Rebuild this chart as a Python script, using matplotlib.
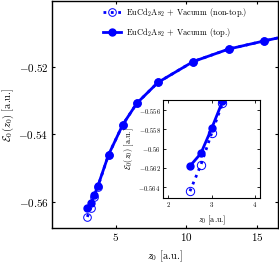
import matplotlib
matplotlib.use("Agg")
import matplotlib.pyplot as plt

plt.rcParams['font.family'] = 'serif'
plt.rcParams['font.serif'] = ['cmr10']
plt.rcParams['mathtext.fontset'] = 'cm'
plt.rcParams['axes.formatter.use_mathtext'] = True

# main panel data
z_top = [3.0, 3.25, 3.5, 3.75, 4.5, 5.5, 6.5, 8.0, 10.5, 13.0, 15.5, 18.0]
e_top = [-0.5618, -0.5605, -0.5580, -0.5553, -0.5461, -0.5372, -0.5308,
         -0.5246, -0.5184, -0.5147, -0.5123, -0.5100]
z_non = [3.0, 3.25, 3.5, 3.75, 4.5, 5.5, 6.5, 8.0, 10.5, 13.0, 15.5, 18.0]
e_non = [-0.5645, -0.5618, -0.5585, -0.5555, -0.5461, -0.5372, -0.5308,
         -0.5246, -0.5184, -0.5147, -0.5123, -0.5100]

# inset data
zi_top = [2.5, 2.75, 3.0, 3.25]
ei_top = [-0.5618, -0.5605, -0.5579, -0.5551]
zi_non = [2.5, 2.75, 3.0, 3.25]
ei_non = [-0.5644, -0.5617, -0.5584, -0.5553]

xticks_main = [5, 10, 15]
yticks_main = [-0.56, -0.54, -0.52]
xticks_in = [2, 3, 4]
yticks_in = [-0.564, -0.562, -0.56, -0.558, -0.556]

lab_non = r'EuCd$_2$As$_2$ + Vacuum (non-top.)'
lab_top = r'EuCd$_2$As$_2$ + Vacuum (top.)'
blue = '#0000ff'

fig = plt.figure(figsize=(2.79, 2.65), dpi=100)
ax = fig.add_axes([0.1864, 0.1396, 0.8100, 0.8570])
ax.plot(z_non, e_non, linestyle=':', color=blue, lw=2.0, marker='o',
        markersize=5.5, markerfacecolor='none', markeredgewidth=0.7, label=lab_non)
ax.plot(z_top, e_top, linestyle='-', color=blue, lw=2.0, marker='o',
        markersize=5, label=lab_top)
ax.set_xlim(0.5, 16.5)
ax.set_ylim(-0.5678, -0.5004)
ax.set_xticks(xticks_main)
ax.set_yticks(yticks_main)
ax.tick_params(direction='in', top=True, right=True, labelsize=8, length=2.5, width=0.8, pad=2.5)
for s in ax.spines.values():
    s.set_linewidth(1.0)
ax.set_xlabel(r'$z_0$ [a.u.]', fontsize=7.5, labelpad=4)
ax.set_ylabel(r'$\mathcal{E}_0(z_0)$ [a.u.]', fontsize=7.5, labelpad=2)
ax.legend(loc='upper left', bbox_to_anchor=(0.2, 1.0), fontsize=6.0, frameon=False,
          handlelength=2.2, handletextpad=0.6, labelspacing=0.75, borderaxespad=0.25)

ins = fig.add_axes([0.5853, 0.2540, 0.3466, 0.3686])
ins.plot(zi_non, ei_non, linestyle=':', color=blue, lw=2.0, marker='o',
         markersize=6, markerfacecolor='none', markeredgewidth=0.7)
ins.plot(zi_top, ei_top, linestyle='-', color=blue, lw=2.0, marker='o', markersize=5)
ins.set_xlim(1.885, 4.115)
ins.set_ylim(-0.56508, -0.55496)
ins.set_xticks(xticks_in)
ins.set_yticks(yticks_in)
ins.set_yticklabels(['$-0.564$', '$-0.562$', '$-0.56$', '$-0.558$', '$-0.556$'])
ins.tick_params(direction='in', top=True, right=True, labelsize=4.8, length=2, width=0.6, pad=2)
for s in ins.spines.values():
    s.set_linewidth(0.8)
ins.set_xlabel(r'$z_0$ [a.u.]', fontsize=5.8, labelpad=3)
ins.set_ylabel(r'$\mathcal{E}_0(z_0)$ [a.u.]', fontsize=5.8, labelpad=2)

fig.savefig('out.png', dpi=100)
